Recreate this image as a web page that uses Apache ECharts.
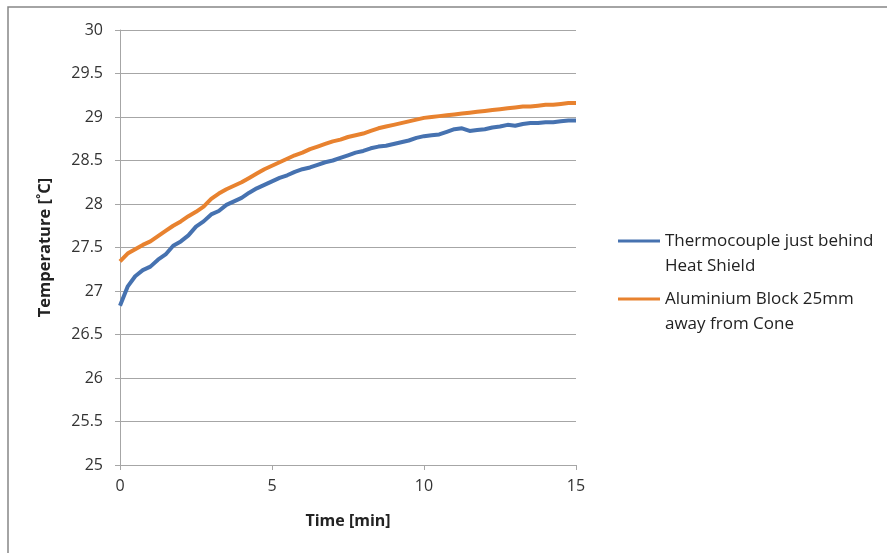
<!DOCTYPE html>
<html>
<head>
<meta charset="utf-8">
<script src="https://cdn.jsdelivr.net/npm/echarts@6/dist/echarts.min.js"></script>
<style>
  html, body { margin: 0; padding: 0; background: #fff; }
  #chart { width: 887px; height: 553px; }
</style>
</head>
<body>
<div id="chart"></div>
<script>
// Sample times in minutes
const timeMin = [
  0, 0.25, 0.5, 0.75, 1, 1.25, 1.5, 1.75, 2, 2.25, 2.5, 2.75, 3, 3.25, 3.5, 3.75,
  4, 4.25, 4.5, 4.75, 5, 5.25, 5.5, 5.75, 6, 6.25, 6.5, 6.75, 7, 7.25, 7.5, 7.75,
  8, 8.25, 8.5, 8.75, 9, 9.25, 9.5, 9.75, 10, 10.25, 10.5, 10.75, 11, 11.25, 11.5, 11.75,
  12, 12.25, 12.5, 12.75, 13, 13.25, 13.5, 13.75, 14, 14.25, 14.5, 14.75, 15
];

// Thermocouple just behind heat shield [°C]
const thermocouple = [
  26.83, 27.05, 27.17, 27.24, 27.28, 27.36, 27.42, 27.52, 27.57, 27.64, 27.74, 27.80, 27.88, 27.92, 27.99, 28.03,
  28.07, 28.13, 28.18, 28.22, 28.26, 28.30, 28.33, 28.37, 28.40, 28.42, 28.45, 28.48, 28.50, 28.53, 28.56, 28.59,
  28.61, 28.64, 28.66, 28.67, 28.69, 28.71, 28.73, 28.76, 28.78, 28.79, 28.80, 28.83, 28.86, 28.87, 28.84, 28.85,
  28.86, 28.88, 28.89, 28.91, 28.90, 28.92, 28.93, 28.93, 28.94, 28.94, 28.95, 28.96, 28.96
];

// Aluminium block 25 mm away from cone [°C]
const aluminium = [
  27.34, 27.43, 27.48, 27.53, 27.57, 27.63, 27.69, 27.75, 27.80, 27.86, 27.91, 27.97, 28.06, 28.12, 28.17, 28.21,
  28.25, 28.30, 28.35, 28.40, 28.44, 28.48, 28.52, 28.56, 28.59, 28.63, 28.66, 28.69, 28.72, 28.74, 28.77, 28.79,
  28.81, 28.84, 28.87, 28.89, 28.91, 28.93, 28.95, 28.97, 28.99, 29.00, 29.01, 29.02, 29.03, 29.04, 29.05, 29.06,
  29.07, 29.08, 29.09, 29.10, 29.11, 29.12, 29.12, 29.13, 29.14, 29.14, 29.15, 29.16, 29.16
];

const seriesNames = ['Thermocouple just behind Heat Shield', 'Aluminium Block 25mm away from Cone'];
const legendLines = [
  ['Thermocouple just behind', 'Heat Shield'],
  ['Aluminium Block 25mm', 'away from Cone']
];
const seriesColors = ['#4672b0', '#e8822f'];

const FONT = 'Open Sans';
const axisGray = '#a6a6a6';

function pairs(values) {
  return values.map((v, i) => [timeMin[i], v]);
}

function legendFor(i, top) {
  return {
    left: 618,
    top: top,
    orient: 'vertical',
    data: [seriesNames[i]],
    icon: 'rect',
    itemWidth: 42,
    itemHeight: 3,
    itemGap: 0,
    padding: 0,
    // an empty first line keeps the swatch level with the first text line
    formatter: () => '{pad|}\n{t|' + legendLines[i][0] + '}\n{t|' + legendLines[i][1] + '}',
    textStyle: {
      rich: {
        pad: { height: 25, lineHeight: 25, fontSize: 17 },
        t: { fontFamily: FONT, fontSize: 17, lineHeight: 25, color: '#222' }
      }
    }
  };
}

const chart = echarts.init(document.getElementById('chart'), null, { renderer: 'canvas' });
chart.setOption({
  animation: false,
  backgroundColor: '#fff',
  graphic: [{
    type: 'rect',
    shape: { x: 8, y: 7, width: 900, height: 560 },
    style: { fill: 'none', stroke: '#868686', lineWidth: 1.5 },
    silent: true
  }],
  grid: { left: 120, right: 311, top: 30, bottom: 88 },
  legend: [legendFor(0, 241 - 37.5), legendFor(1, 299 - 37.5)],
  xAxis: {
    type: 'value',
    min: 0, max: 15, interval: 5,
    name: 'Time [min]',
    nameLocation: 'middle',
    nameGap: 48,
    nameTextStyle: { fontFamily: FONT, fontSize: 16, fontWeight: 'bold', color: '#222' },
    axisLine: { show: true, lineStyle: { color: axisGray, width: 1 } },
    axisTick: { show: true, length: 5, lineStyle: { color: axisGray } },
    axisLabel: { margin: 13, fontFamily: FONT, fontSize: 16, color: '#333' },
    splitLine: { show: false }
  },
  yAxis: {
    type: 'value',
    min: 25, max: 30, interval: 0.5,
    name: 'Temperature [˚C]',
    nameLocation: 'middle',
    nameGap: 66,
    nameRotate: 90,
    nameTextStyle: { fontFamily: FONT, fontSize: 16.5, fontWeight: 'bold', color: '#222' },
    axisLine: { show: true, lineStyle: { color: axisGray, width: 1 } },
    axisTick: { show: true, length: 5, lineStyle: { color: axisGray } },
    axisLabel: { margin: 17, fontFamily: FONT, fontSize: 16, color: '#333' },
    splitLine: { show: true, lineStyle: { color: axisGray, width: 1 } }
  },
  series: [
    {
      name: seriesNames[0],
      type: 'line',
      data: pairs(thermocouple),
      showSymbol: false,
      lineStyle: { width: 4, color: seriesColors[0] },
      itemStyle: { color: seriesColors[0] },
      z: 3
    },
    {
      name: seriesNames[1],
      type: 'line',
      data: pairs(aluminium),
      showSymbol: false,
      lineStyle: { width: 4, color: seriesColors[1] },
      itemStyle: { color: seriesColors[1] },
      z: 2
    }
  ]
});
</script>
</body>
</html>
